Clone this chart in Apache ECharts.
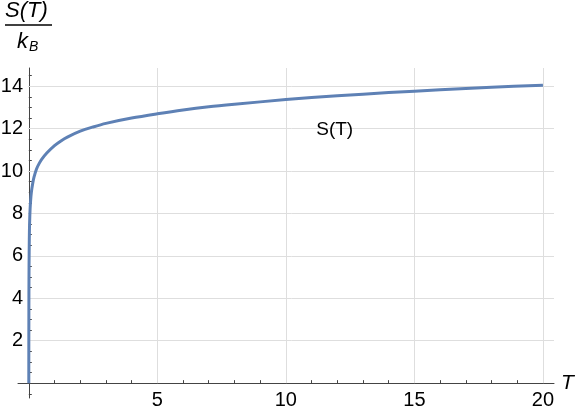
<!DOCTYPE html>
<html>
<head>
<meta charset="utf-8">
<script src="https://cdn.jsdelivr.net/npm/echarts@6/dist/echarts.min.js"></script>
<style>
  html, body { margin: 0; padding: 0; background: #fff; }
  #chart { width: 581px; height: 410px; }
</style>
</head>
<body>
<div id="chart"></div>
<script>
// values
const temps = [0, 0.001, 0.002, 0.005, 0.01, 0.02, 0.03, 0.05, 0.07, 0.1, 0.15, 0.2, 0.3, 0.4, 0.5, 0.7,
  1, 1.25, 1.5, 2, 2.5, 3, 4, 5, 6, 7, 8, 10, 12, 14, 16, 18, 20]
const entropy = [0, 1.5, 2.5, 4.2, 5.5, 6.8, 7.5, 8.2, 8.6, 9.0, 9.4, 9.7, 10.1, 10.35, 10.55, 10.85,
  11.2, 11.42, 11.6, 11.88, 12.08, 12.25, 12.5, 12.7, 12.88, 13.03, 13.15, 13.37, 13.55, 13.7, 13.83, 13.95, 14.05]

const xMajor = [5, 10, 15, 20]
const xMinor = [1, 2, 3, 4, 6, 7, 8, 9, 11, 12, 13, 14, 16, 17, 18, 19]
const yMajor = [2, 4, 6, 8, 10, 12, 14]
const yMinor = [-0.5, 0.5, 1, 1.5, 2.5, 3, 3.5, 4.5, 5, 5.5, 6.5, 7, 7.5, 8.5, 9, 9.5,
  10.5, 11, 11.5, 12.5, 13, 13.5, 14.5]

const xRange = [-0.42, 20.43]
const yRange = [-0.7, 14.86]

const curveLabel = { text: 'S(T)', at: [11.9, 11.95] }

const font = '"Liberation Sans", Arial, sans-serif'
const axisColor = '#444'
const gridColor = '#dedede'

const chart = echarts.init(document.getElementById('chart'))

const gridLines = [
  ...xMajor.map(v => [{ coord: [v, 0] }, { coord: [v, yRange[1]] }]),
  ...yMajor.map(v => [{ coord: [0, v] }, { coord: [xRange[1], v] }])
]

function baseAxis(extra) {
  return Object.assign({
    type: 'value',
    splitLine: { show: false },
    axisLine: { onZero: true, lineStyle: { color: axisColor, width: 1 } }
  }, extra)
}

chart.setOption({
  animation: false,
  grid: { left: 18, right: 27, top: 68, bottom: 12, containLabel: false, outerBoundsMode: 'none' },
  xAxis: [
    baseAxis({
      min: xRange[0], max: xRange[1],
      position: 'bottom',
      name: 'T',
      nameLocation: 'end',
      nameGap: 7,
      nameTextStyle: { fontFamily: font, fontStyle: 'italic', fontSize: 21, color: '#000', verticalAlign: 'middle' },
      axisTick: { inside: true, length: 5, customValues: [0, ...xMajor], lineStyle: { color: axisColor } },
      // labels sit at the grid edge, not on the zero line, so pull them up
      axisLabel: { customValues: xMajor, margin: -8, fontFamily: font, fontSize: 20, color: '#000' }
    }),
    baseAxis({
      min: xRange[0], max: xRange[1],
      position: 'bottom',
      axisLine: { show: false, onZero: true },
      axisTick: { inside: true, length: 3, customValues: xMinor, lineStyle: { color: axisColor } },
      axisLabel: { show: false }
    })
  ],
  yAxis: [
    baseAxis({
      min: yRange[0], max: yRange[1],
      position: 'left',
      axisTick: { inside: true, length: 5, customValues: [0, ...yMajor], lineStyle: { color: axisColor } },
      axisLabel: { customValues: yMajor, margin: -5, fontFamily: font, fontSize: 20, color: '#000' }
    }),
    baseAxis({
      min: yRange[0], max: yRange[1],
      position: 'left',
      axisLine: { show: false, onZero: true },
      axisTick: { inside: true, length: 3, customValues: yMinor, lineStyle: { color: axisColor } },
      axisLabel: { show: false }
    })
  ],
  series: [
    {
      type: 'line',
      xAxisIndex: 0,
      yAxisIndex: 0,
      data: temps.map((t, i) => [t, entropy[i]]),
      showSymbol: false,
      smooth: 0.3,
      z: 5,
      lineStyle: { color: '#5e81b5', width: 3 },
      markLine: {
        silent: true,
        symbol: 'none',
        z: 1,
        label: { show: false },
        lineStyle: { color: gridColor, width: 1, type: 'solid' },
        data: gridLines
      },
      markPoint: {
        silent: true,
        symbol: 'circle',
        symbolSize: 0,
        label: {
          show: true,
          position: 'inside',
          formatter: curveLabel.text,
          fontFamily: font,
          fontSize: 19,
          color: '#000'
        },
        data: [{ coord: curveLabel.at }]
      }
    }
  ],
  graphic: [
    {
      type: 'text',
      left: 5,
      top: 0,
      style: { text: 'S(T)', font: 'italic 22px ' + font, fill: '#000' }
    },
    {
      type: 'line',
      shape: { x1: 5, y1: 25, x2: 52, y2: 25 },
      style: { stroke: '#000', lineWidth: 1.5 }
    },
    {
      type: 'text',
      left: 17,
      top: 31,
      style: {
        text: '{k|k}{b|B}',
        rich: {
          k: { font: 'italic 22px ' + font, fill: '#000' },
          b: { font: 'italic 14px ' + font, fill: '#000', padding: [11, 0, 0, 1] }
        }
      }
    }
  ]
})
</script>
</body>
</html>
